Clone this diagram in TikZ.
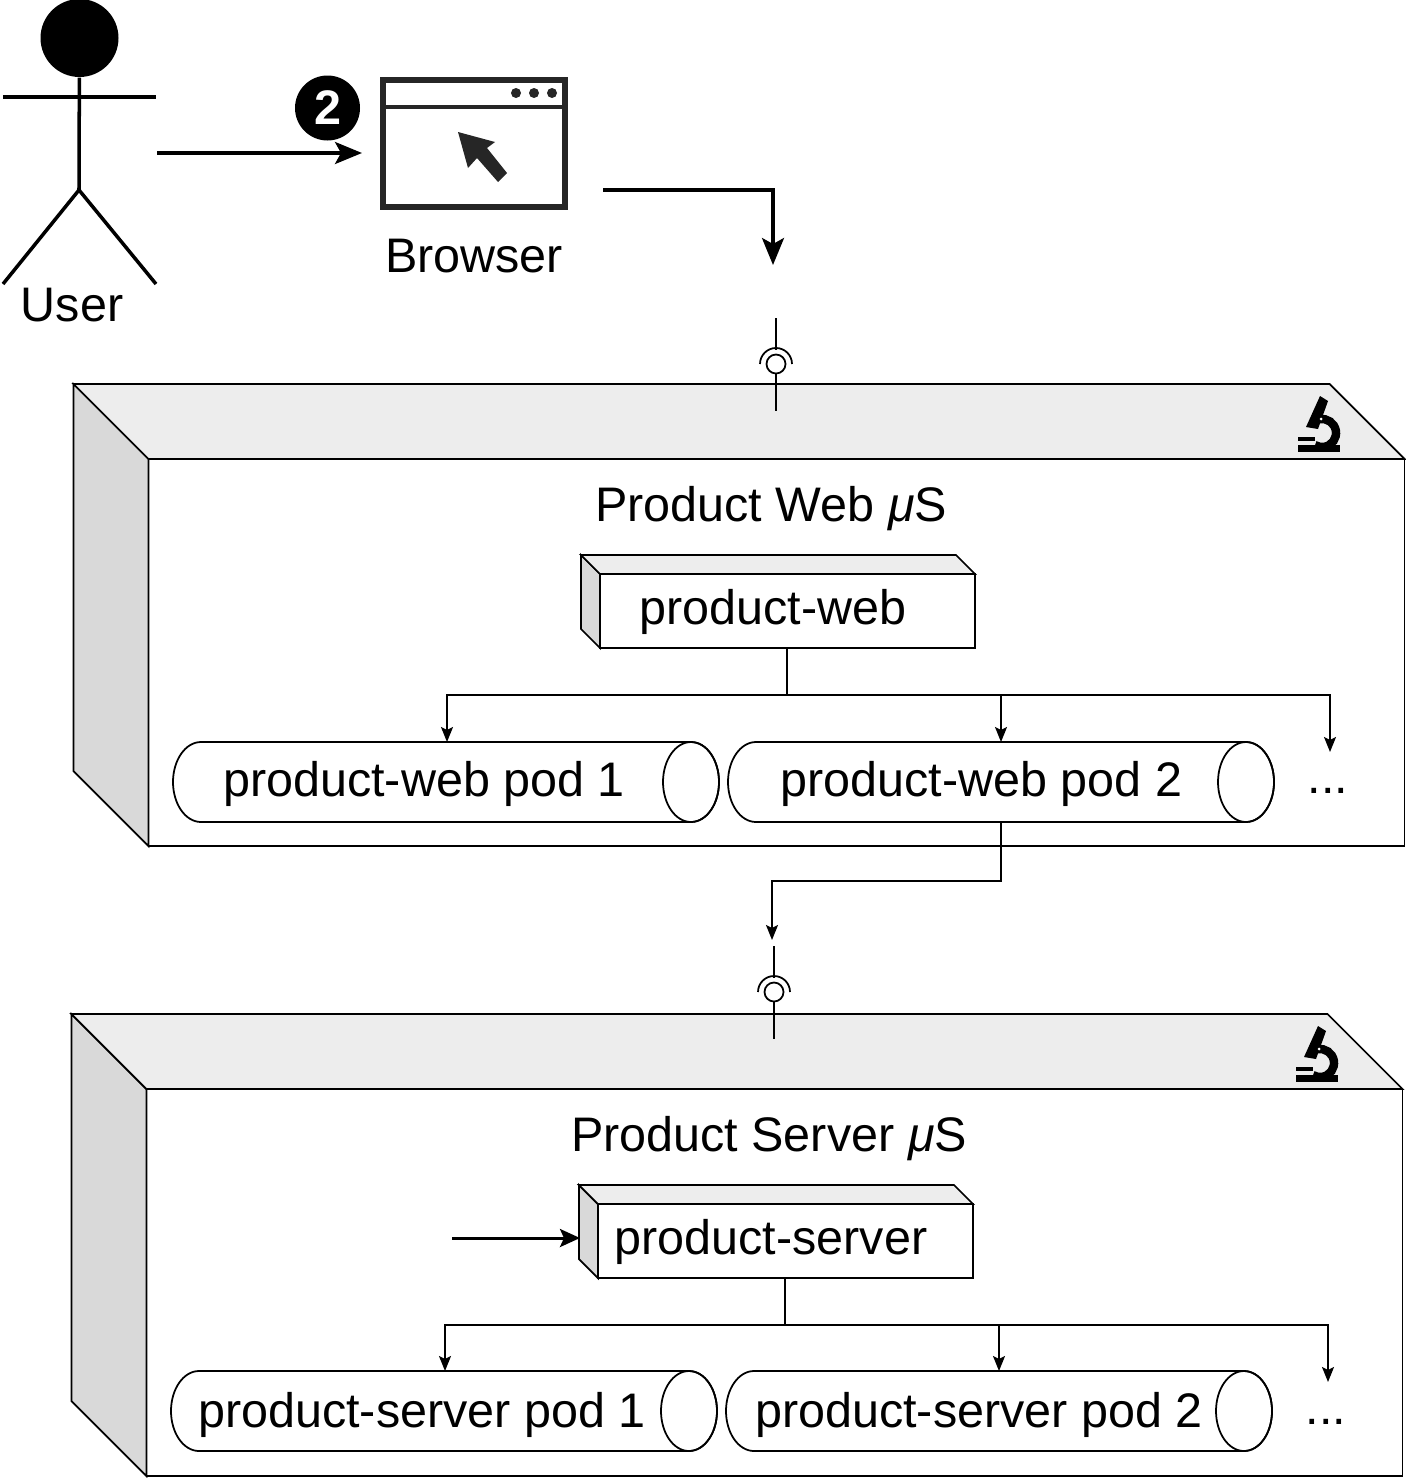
\documentclass[tikz,border=0pt]{standalone}
\usepackage{fontspec}
\setmainfont{Liberation Sans}
\usepackage{tikz}
\usetikzlibrary{shapes.geometric,arrows.meta,positioning,calc}

\definecolor{sidegray}{HTML}{D9D9D9}
\definecolor{topgray}{HTML}{EDEDED}

\tikzset{
  line/.style={line width=0.5pt},
  heavy/.style={line width=0.95pt, -{Stealth[length=0.27cm,width=0.22cm,inset=0.06cm]}},
  small/.style={line, -{Stealth[length=0.15cm,width=0.12cm,inset=0.03cm]}},
  lbl/.style={font=\fontsize{13.8}{16}\selectfont, inner sep=0pt},
  front/.style={draw, line width=0.5pt, fill=white, inner sep=0pt, outer sep=0pt},
  pics/microscope/.style={code={
    \fill (0.50,-0.16) -- (0.58,-0.21) -- (0.48,-0.49) -- (0.36,-0.47) -- cycle;
    \draw[line width=2.4pt] (0.496,-0.392) arc (100:-120:0.14);
    \fill (0.28,-0.65) rectangle (0.70,-0.72);
    \fill (0.28,-0.57) rectangle (0.45,-0.61);
    \fill[white] (0.51,-0.39) circle (0.015);
  }},
  pics/socket/.style={code={
    \draw[line] (0,0.46) -- (0,0.14);
    \draw[line] (-0.16,0) arc (180:0:0.16);
    \draw[line] (0,0) circle (0.095);
    \draw[line] (0,-0.095) -- (0,-0.47);
  }},
}

% Big service box
\newcommand{\servicebox}[3]{%
  \node[front, minimum width=12.56cm, minimum height=3.87cm] (#3) at (#1,#2) {};
  \draw[line, fill=sidegray] (#3.north west) -- ++(-0.75,0.75) -- ++(0,-3.87) -- (#3.south west) -- cycle;
  \draw[line, fill=topgray] (#3.north west) -- ++(-0.75,0.75) -- ++(12.56,0) -- (#3.north east) -- cycle;
}
% Small deployment box
\newcommand{\deploybox}[3]{%
  \node[front, minimum width=3.75cm, minimum height=0.74cm] (#3) at (#1,#2) {};
  \draw[line, fill=sidegray] (#3.north west) -- ++(-0.19,0.19) -- ++(0,-0.74) -- (#3.south west) -- cycle;
  \draw[line, fill=topgray] (#3.north west) -- ++(-0.19,0.19) -- ++(3.75,0) -- (#3.north east) -- cycle;
}
% Pod tube
\newcommand{\podbox}[3]{%
  \node[minimum width=5.46cm, minimum height=0.8cm, inner sep=0pt, outer sep=0pt] (#3) at (#1,#2) {};
  \draw[line, fill=white] ($(#3.north west)+(0.28,0)$) -- ($(#3.north east)+(-0.28,0)$)
    arc (90:-90:0.28 and 0.4) -- ($(#3.south west)+(0.28,0)$) arc (270:90:0.28 and 0.4) -- cycle;
  \draw[line] ($(#3.east)+(-0.28,0)$) ellipse (0.28 and 0.4);
}

\begin{document}
\begin{tikzpicture}
\useasboundingbox (0,0) rectangle (14.06,-14.78);

% User
\node[circle, fill=black, minimum size=0.78cm, inner sep=0pt] (head) at (0.795,-0.38) {};
\coordinate (hip) at (0.79,-1.90);
\coordinate (armL) at (0.03,-0.97);
\coordinate (armR) at (1.56,-0.97);
\coordinate (footL) at (0.03,-2.84);
\coordinate (footR) at (1.56,-2.84);
\draw[line width=1pt] (head) -- (hip);
\draw[line width=1pt] (armL) -- (armR);
\draw[line width=1pt] (footL) -- (hip) -- (footR);
\node[lbl] (user) at (0.72,-3.05) {User};

% Browser
\node[draw=black!85, line width=1.6pt, minimum width=1.82cm, minimum height=1.27cm, inner sep=0pt, outer sep=0pt] (browser) at (4.74,-1.435) {};
\draw[black!85, line width=1.4pt] ($(browser.north west)+(0,-0.27)$) -- ($(browser.north east)+(0,-0.27)$);
\foreach \x in {5.16,5.34,5.52}
  \fill[black!85] (\x,-0.93) circle (0.05);
\fill[black!85] (4.58,-1.32) -- (4.95,-1.42) -- (4.87,-1.48) -- (5.07,-1.73) -- (4.98,-1.82) -- (4.77,-1.58) -- (4.68,-1.68) -- cycle;
\node[lbl] (browserlbl) at (4.74,-2.56) {Browser};

% Step badge
\node[circle, fill=black, minimum size=0.65cm, inner sep=0pt, text=white, font=\fontsize{13.8}{16}\selectfont\bfseries] (badge) at (3.275,-1.08) {2};

\coordinate (userout) at (1.57,-1.53);
\coordinate (browserin) at (3.62,-1.53);
\draw[heavy] (userout) -- (browserin);
\coordinate (browserout) at (6.03,-1.90);
\coordinate (webtop) at (7.73,-2.65);
\draw[heavy] (browserout) -| (webtop);

% Product Web
\servicebox{7.765}{-6.525}{websvc}
\pic at (12.70,-3.80) {microscope};
\pic at (7.76,-3.64) {socket};
\node[lbl] (webtitle) at (7.71,-5.09) {Product Web \textit{μ}S};
\deploybox{7.875}{-6.11}{webdep}
\node[lbl] (webdeplbl) at (7.73,-6.12) {product-web};
\podbox{4.46}{-7.82}{webpod1}
\node[lbl] (webpod1lbl) at (4.24,-7.84) {product-web pod 1};
\podbox{10.01}{-7.82}{webpod2}
\node[lbl] (webpod2lbl) at (9.815,-7.84) {product-web pod 2};
\node[lbl] (webdots) at (13.28,-7.91) {...};

\coordinate (websplit) at (7.87,-6.95);
\coordinate (webmore) at (13.30,-7.52);
\draw[line] (webdep.south -| websplit) -- (websplit);
\draw[small] (websplit) -| (webpod1.north -| 4.47,0);
\draw[small] (websplit) -| (webpod2.north);
\draw[small] (websplit) -| (webmore);

% Product Server
\servicebox{7.745}{-12.825}{srvsvc}
\pic at (12.68,-10.10) {microscope};
\pic at (7.74,-9.92) {socket};
\node[lbl] (srvtitle) at (7.69,-11.39) {Product Server \textit{μ}S};
\deploybox{7.855}{-12.41}{srvdep}
\node[lbl] (srvdeplbl) at (7.71,-12.42) {product-server};
\podbox{4.44}{-14.11}{srvpod1}
\node[lbl] (srvpod1lbl) at (4.22,-14.15) {product-server pod 1};
\podbox{9.99}{-14.11}{srvpod2}
\node[lbl] (srvpod2lbl) at (9.79,-14.15) {product-server pod 2};
\node[lbl] (srvdots) at (13.26,-14.22) {...};

\coordinate (srvsplit) at (7.85,-13.25);
\coordinate (srvmore) at (13.28,-13.82);
\coordinate (srvin) at (4.52,-12.38);
\draw[line] (srvdep.south -| srvsplit) -- (srvsplit);
\draw[small] (srvsplit) -| (srvpod1.north -| 4.45,0);
\draw[small] (srvsplit) -| (srvpod2.north);
\draw[small] (srvsplit) -| (srvmore);
\draw[line width=0.85pt, -{Stealth[length=0.2cm,width=0.18cm,inset=0.04cm]}] (srvin) -- (srvin -| 5.80,0);

% Between services
\coordinate (srvtop) at (7.72,-9.40);
\draw[small] (webpod2.south) |- ($(webpod2.south)!0.5!(webpod2.south |- 0,-9.40)$) -| (srvtop);
\end{tikzpicture}
\end{document}
